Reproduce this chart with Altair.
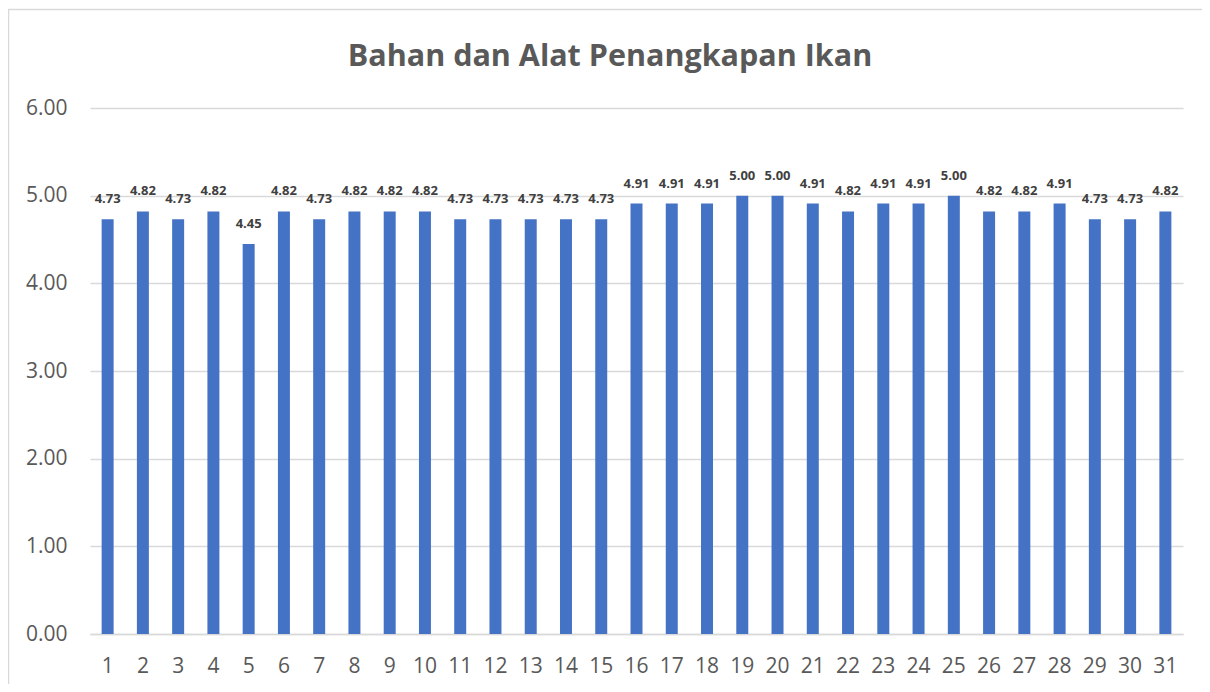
import altair as alt
import pandas as pd

days = [str(i) for i in range(1, 32)]
values = [4.73, 4.82, 4.73, 4.82, 4.45, 4.82, 4.73, 4.82, 4.82, 4.82,
          4.73, 4.73, 4.73, 4.73, 4.73, 4.91, 4.91, 4.91, 5.00, 5.00,
          4.91, 4.82, 4.91, 4.91, 5.00, 4.82, 4.82, 4.91, 4.73, 4.73, 4.82]
title_text = "Bahan dan Alat Penangkapan Ikan"
y_ticks = [0, 1, 2, 3, 4, 5, 6]

df = pd.DataFrame({"day": days, "value": values})

W, H = 1093, 526
FONT = "Open Sans"

x_enc = alt.X("day:N", sort=days, title=None,
              scale=alt.Scale(paddingInner=0.66, paddingOuter=0.33),
              axis=alt.Axis(labelAngle=0, labelFont=FONT, labelFontSize=21,
                            labelColor="#595959", ticks=False, tickSize=0,
                            labelPadding=32, labelBaseline="middle",
                            domainColor="#D9D9D9", domainWidth=1.5, grid=False))
y_enc = alt.Y("value:Q", title=None,
              scale=alt.Scale(domain=[0, 6], nice=False),
              axis=alt.Axis(values=y_ticks, format=".2f", labelFont=FONT,
                            labelFontSize=21, labelColor="#595959",
                            ticks=False, tickSize=0, labelPadding=23,
                            domain=False, gridColor="#D9D9D9", gridWidth=1.5))

base = alt.Chart(df)
bars = base.mark_bar(color="#4472C4").encode(x=x_enc, y=y_enc)
labels = base.mark_text(font=FONT, fontSize=13, fontWeight="bold",
                        color="#404040", baseline="middle", dy=-20).encode(
    x=alt.X("day:N", sort=days), y=alt.Y("value:Q"),
    text=alt.Text("value:Q", format=".2f"))

border = alt.Chart(pd.DataFrame({"t": [title_text]})).mark_rect(
    fill="transparent", stroke="#D9D9D9", strokeWidth=1.5).encode(
    x=alt.value(-81.5), x2=alt.value(W + 200),
    y=alt.value(-98.5), y2=alt.value(H + 200))

title = alt.Chart(pd.DataFrame({"t": [title_text]})).mark_text(
    font=FONT, fontSize=30.5, fontWeight="bold", color="#595959",
    align="center", baseline="alphabetic").encode(
    x=alt.value(520), y=alt.value(-42), text="t:N")

chart = alt.layer(border, bars, labels, title).properties(
    width=W, height=H,
    background="white",
    autosize=alt.AutoSizeParams(type="none"),
    padding={"left": 82, "top": 100, "right": 19, "bottom": 50},
).configure_view(strokeWidth=0)

chart.save("out.html", embed_options={"renderer": "svg", "actions": False})
